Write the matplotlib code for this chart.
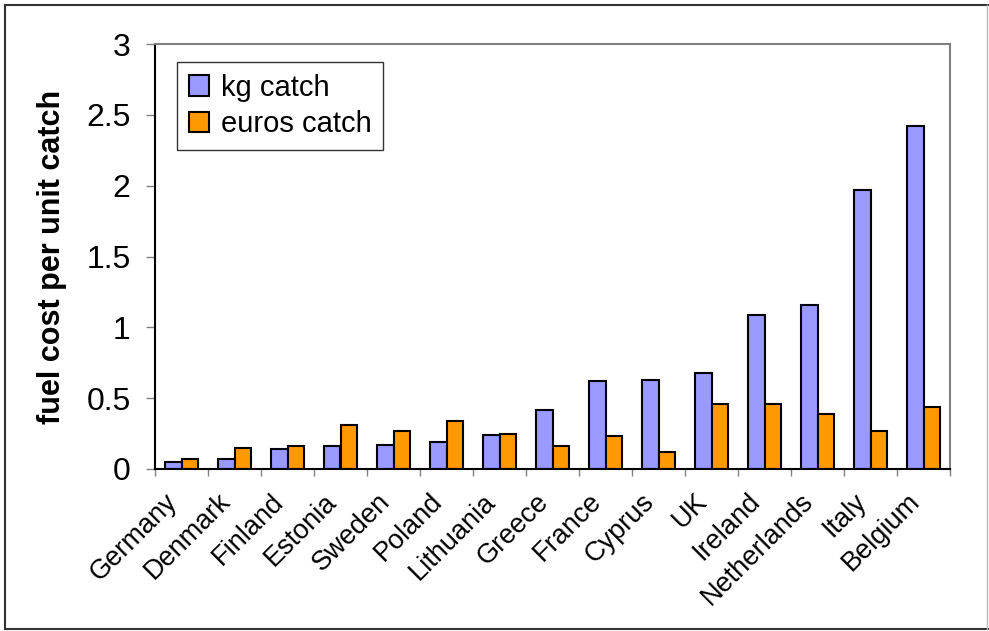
import numpy as np
import matplotlib
matplotlib.use("Agg")
import matplotlib.pyplot as plt
from matplotlib.lines import Line2D
from matplotlib.transforms import ScaledTranslation

plt.rcParams['font.family'] = ['Liberation Sans', 'DejaVu Sans']

countries = ["Germany", "Denmark", "Finland", "Estonia", "Sweden", "Poland",
             "Lithuania", "Greece", "France", "Cyprus", "UK", "Ireland",
             "Netherlands", "Italy", "Belgium"]
kg_catch = [0.05, 0.07, 0.14, 0.16, 0.17, 0.19, 0.24, 0.42, 0.62, 0.63,
            0.68, 1.09, 1.16, 1.97, 2.42]
euros_catch = [0.07, 0.15, 0.16, 0.31, 0.27, 0.34, 0.25, 0.16, 0.23, 0.12,
               0.46, 0.46, 0.39, 0.27, 0.44]

fig = plt.figure(figsize=(9.89, 6.31), dpi=100)
ax = fig.add_axes([155/989, 1 - 469/631, 795/989, 425/631])

x = np.arange(len(countries))
w = 0.32
ax.bar(x - w/2, kg_catch, w, color="#9999FF", edgecolor="black", linewidth=1.5,
       label="kg catch")
ax.bar(x + w/2, euros_catch, w, color="#FF9900", edgecolor="black", linewidth=1.5,
       label="euros catch")

ax.set_xlim(-0.5, len(countries) - 0.5)
ax.set_ylim(0, 3)
ax.set_yticks(np.arange(0, 3.01, 0.5))
ax.set_yticklabels(["0", "0.5", "1", "1.5", "2", "2.5", "3"], fontsize=23)
ax.tick_params(axis='y', length=6.5, width=1, color="gray", pad=11)

# labels centred on categories, tick marks between categories
ax.set_xticks(x)
ax.set_xticklabels(countries, fontsize=19.5, rotation=45, ha='right', va='top',
                   rotation_mode='anchor')
ax.tick_params(axis='x', which='major', length=0, pad=14)
shift = ScaledTranslation(-17/100, 0, fig.dpi_scale_trans)
for lab in ax.get_xticklabels():
    lab.set_transform(lab.get_transform() + shift)
ax.set_xticks(np.arange(-0.5, len(countries), 1), minor=True)
ax.tick_params(axis='x', which='minor', length=5, width=1, color="gray")

ax.set_ylabel("fuel cost per unit catch", fontsize=22, fontweight='bold', labelpad=14)

for s in ["left", "bottom"]:
    ax.spines[s].set_color("black")
    ax.spines[s].set_linewidth(1.5)
for s in ["top", "right"]:
    ax.spines[s].set_color("gray")
    ax.spines[s].set_linewidth(1.5)

leg = ax.legend(loc="upper left", bbox_to_anchor=(0.028, 0.958), borderaxespad=0,
                fontsize=21, frameon=True, fancybox=False, handlelength=0.7,
                handleheight=0.7, handletextpad=0.4, borderpad=0.4, labelspacing=0.3)
leg.get_frame().set_edgecolor("black")
leg.get_frame().set_linewidth(1)

# outer chart frame
W, H = 989, 631
fig.add_artist(Line2D([5/W, 5/W], [2/H, 1 - 5/H], color="#333333", lw=1.5))
fig.add_artist(Line2D([5/W, 988/W], [1 - 5/H, 1 - 5/H], color="#333333", lw=1.5))
fig.add_artist(Line2D([5/W, 988/W], [2/H, 2/H], color="#333333", lw=1.5))
fig.add_artist(Line2D([987/W, 987/W], [2/H, 1 - 5/H], color="#bbbbbb", lw=1))

fig.savefig("out.png", dpi=100)
